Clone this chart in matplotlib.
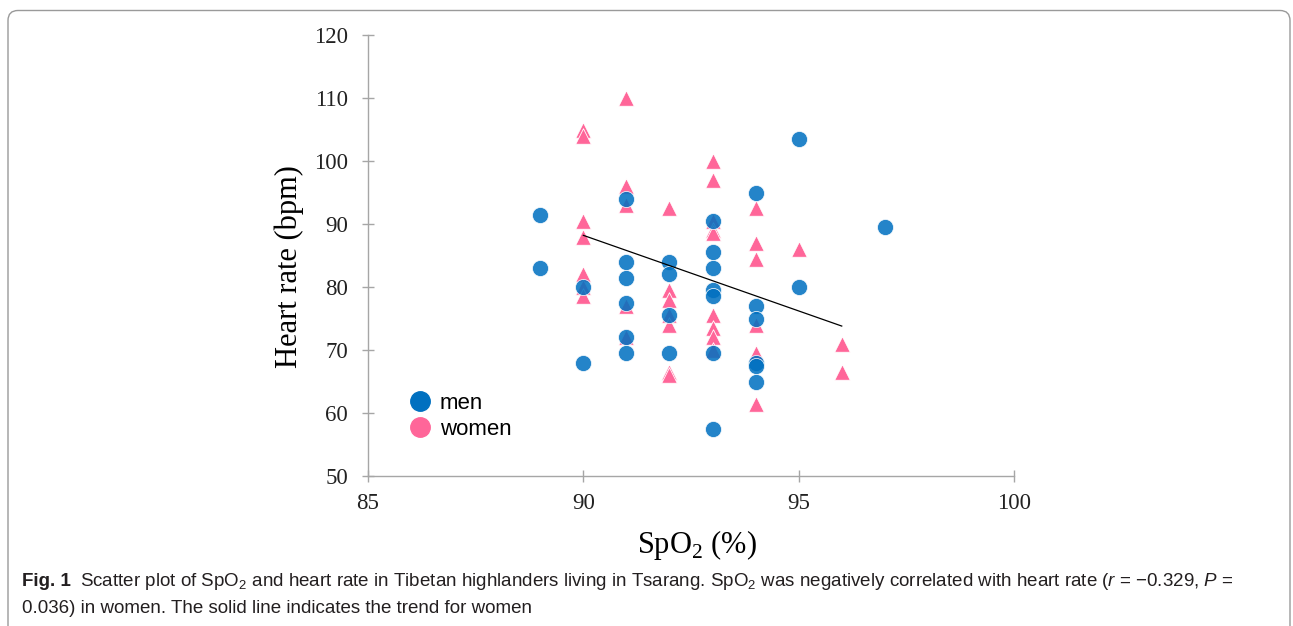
import numpy as np
import matplotlib.pyplot as plt
from matplotlib.lines import Line2D
from matplotlib.patches import FancyBboxPatch
from matplotlib.transforms import IdentityTransform

plt.rcParams['mathtext.fontset'] = 'custom'
plt.rcParams['mathtext.rm'] = 'Liberation Sans'
plt.rcParams['mathtext.it'] = 'Liberation Sans:italic'

# SpO2 (%) and heart rate (bpm)
men_spo2 = [89, 89, 90, 90,
            91, 91, 91, 91, 91, 91,
            92, 92, 92, 92,
            93, 93, 93, 93, 93, 93, 93,
            94, 94, 94, 94, 94, 94,
            95, 95, 97]
men_hr = [91.5, 83, 80, 68,
          94, 84, 81.5, 77.5, 72, 69.5,
          84, 82, 75.5, 69.5,
          90.5, 85.5, 83, 79.5, 78.5, 69.5, 57.5,
          95, 77, 75, 68, 67.5, 65,
          103.5, 80, 89.5]

women_spo2 = [90, 90, 90, 90, 90, 90, 90,
              91, 91, 91, 91, 91,
              92, 92, 92, 92, 92, 92, 92,
              93, 93, 93, 93, 93, 93, 93, 93, 93,
              94, 94, 94, 94, 94, 94,
              95, 96, 96]
women_hr = [105, 104, 90.5, 88, 82, 80, 78.5,
            110, 96, 93, 77, 72,
            92.5, 79.5, 78, 75.5, 74, 66.5, 66,
            100, 97, 90.5, 89, 88.5, 75.5, 73.5, 72, 70,
            92.5, 87, 84.5, 74, 69.5, 61.5,
            86, 71, 66.5]

# trend line for women (end points)
trend_x = [90, 96]
trend_y = [88.2, 73.8]

x_ticks = [85, 90, 95, 100]
y_ticks = [50, 60, 70, 80, 90, 100, 110, 120]

blue = '#0070C0'
pink = '#FF6699'
axis_grey = '#A6A6A6'

W, H = 1293, 626
fig = plt.figure(figsize=(W / 100, H / 100), dpi=100)
ax = fig.add_axes([368 / W, 1 - 476 / H, 646 / W, 441 / H])

ax.scatter(women_spo2, women_hr, marker='^', s=125, color=pink,
           edgecolors='white', linewidths=0.6, zorder=2)
ax.scatter(men_spo2, men_hr, marker='o', s=135, color=blue, alpha=0.86,
           edgecolors='white', linewidths=0.6, zorder=3)
ax.plot(trend_x, trend_y, color='black', lw=0.9, zorder=4)

ax.set_xlim(85, 100)
ax.set_ylim(50, 120)
ax.set_xticks(x_ticks)
ax.set_yticks(y_ticks)
for s in ['top', 'right']:
    ax.spines[s].set_visible(False)
for s in ['left', 'bottom']:
    ax.spines[s].set_color(axis_grey)
    ax.spines[s].set_linewidth(1.0)
ax.tick_params(direction='inout', length=9, width=1.0, color=axis_grey,
               labelsize=16.5, labelcolor='#222222')
ax.tick_params(axis='y', pad=10)
ax.tick_params(axis='x', pad=8)
for lab in ax.get_xticklabels() + ax.get_yticklabels():
    lab.set_fontfamily('Liberation Serif')

ax.set_ylabel('Heart rate (bpm)', family='Liberation Serif', fontsize=22)
ax.yaxis.set_label_coords(-0.099, 0.476)
ax.set_xlabel(r'SpO$_{\mathregular{2}}$ (%)', family='Liberation Serif',
              fontsize=22)
ax.xaxis.set_label_coords(0.509, -0.119)

handles = [Line2D([], [], marker='o', ls='none', color=blue, markersize=14),
           Line2D([], [], marker='o', ls='none', color=pink, markersize=14)]
ax.legend(handles, ['men', 'women'], loc='lower left',
          bbox_to_anchor=(0.022, 0.036), frameon=False, handletextpad=0.1,
          handlelength=1.6, labelspacing=0.24,
          prop={'family': 'Liberation Sans', 'size': 16})

# rounded frame around the figure
frame = FancyBboxPatch((8, -30), W - 11, H - 10 + 30 - 0.5,
                       boxstyle='round,pad=0,rounding_size=10',
                       transform=IdentityTransform(), fill=False,
                       edgecolor='#9A9A9A', lw=1.0)
fig.add_artist(frame)

# caption
cap_font = {'family': 'Liberation Sans', 'size': 13.5, 'color': '#231F20'}
y1 = 1 - 586 / H
y2 = 1 - 613 / H
t1 = fig.text(22 / W, y1, 'Fig. 1', weight='bold', va='baseline', **cap_font)
fig.canvas.draw()
bb = t1.get_window_extent()
fig.text((bb.x1 + 9) / W, y1,
         r'Scatter plot of SpO$_{\mathregular{2}}$ and heart rate in Tibetan '
         r'highlanders living in Tsarang. SpO$_{\mathregular{2}}$ was negatively '
         r'correlated with heart rate ($\mathit{r}$ = −0.329, $\mathit{P}$ =',
         va='baseline', **cap_font)
fig.text(22 / W, y2, '0.036) in women. The solid line indicates the trend for women',
         va='baseline', **cap_font)

fig.savefig('out.png', dpi=100)
